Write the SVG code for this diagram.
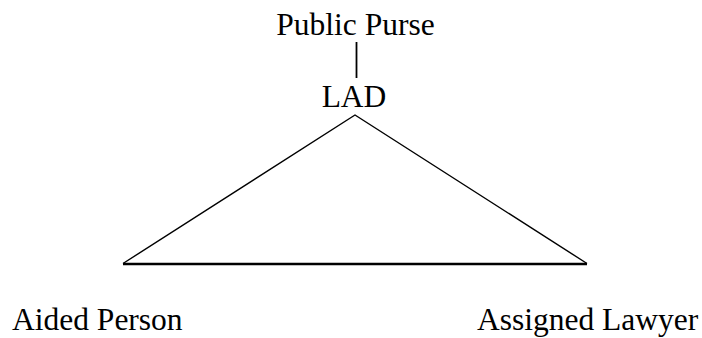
<svg xmlns="http://www.w3.org/2000/svg" width="702" height="338" viewBox="0 0 702 338">
<style>
text{font-family:"Liberation Serif","Times New Roman",serif;font-size:31.5px;fill:#000}
.ln{stroke:#000;fill:none}
</style>
<rect width="702" height="338" fill="#fff"/>
<g id="connectors">
<line class="ln" x1="356.5" y1="42" x2="356.5" y2="78" stroke-width="1.8"/>
<polyline class="ln" points="123,263.5 355,115 587,263.5" stroke-width="1.4"/>
<line class="ln" x1="123" y1="264" x2="587" y2="264" stroke-width="2.6"/>
</g>
<g id="public-purse"><text x="355.5" y="35" text-anchor="middle">Public Purse</text></g>
<g id="lad"><text x="354" y="107" text-anchor="middle">LAD</text></g>
<g id="aided-person"><text x="12" y="330">Aided Person</text></g>
<g id="assigned-lawyer"><text x="477" y="330">Assigned Lawyer</text></g>
</svg>
